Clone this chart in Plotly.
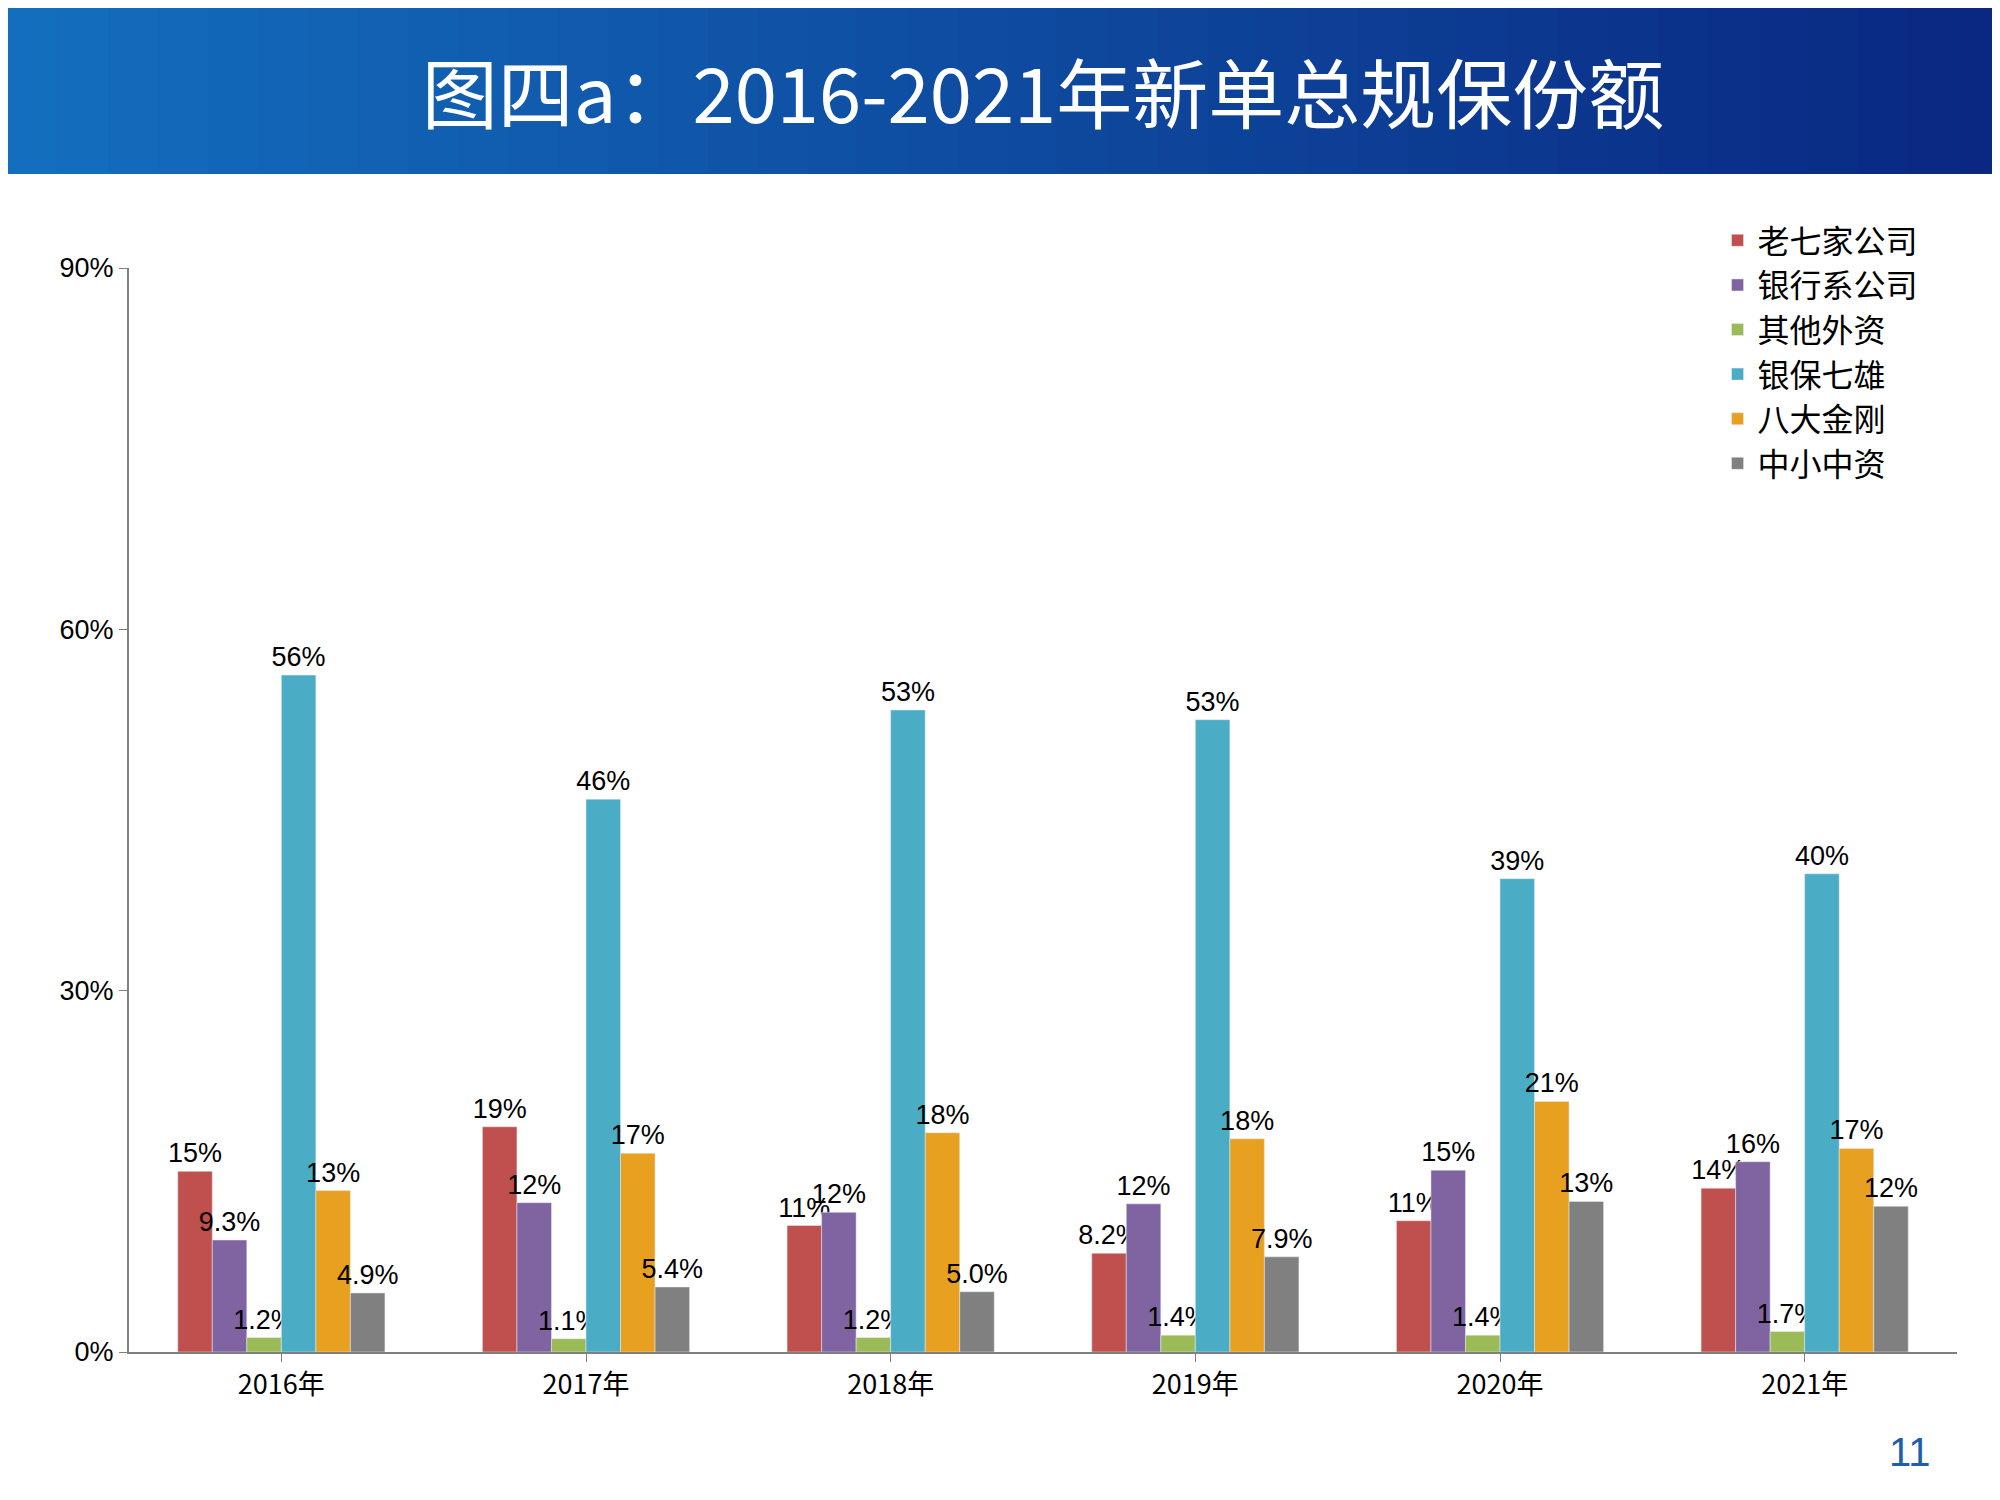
import plotly.graph_objects as go

years = ["2016年", "2017年", "2018年", "2019年", "2020年", "2021年"]
series = ["老七家公司", "银行系公司", "其他外资", "银保七雄", "八大金刚", "中小中资"]
colors = ["#C0504D", "#8064A2", "#9BBB59", "#4BACC6", "#E8A020", "#808080"]
values = [
    [15.0, 18.7, 10.5, 8.2, 10.9, 13.6],
    [9.3, 12.4, 11.6, 12.3, 15.1, 15.8],
    [1.2, 1.1, 1.2, 1.4, 1.4, 1.7],
    [56.2, 45.9, 53.3, 52.5, 39.3, 39.7],
    [13.4, 16.5, 18.2, 17.7, 20.8, 16.9],
    [4.9, 5.4, 5.0, 7.9, 12.5, 12.1],
]
labels = [
    ["15%", "19%", "11%", "8.2%", "11%", "14%"],
    ["9.3%", "12%", "12%", "12%", "15%", "16%"],
    ["1.2%", "1.1%", "1.2%", "1.4%", "1.4%", "1.7%"],
    ["56%", "46%", "53%", "53%", "39%", "40%"],
    ["13%", "17%", "18%", "18%", "21%", "17%"],
    ["4.9%", "5.4%", "5.0%", "7.9%", "13%", "12%"],
]

fig = go.Figure()
for s, c, v, t in zip(series, colors, values, labels):
    fig.add_trace(go.Bar(
        name=s, x=years, y=v, marker_color=c, text=t,
        textposition="outside", cliponaxis=False, constraintext="none",
        textfont=dict(family="Liberation Sans, Arial", size=27, color="#000"),
    ))

ph = 1500 - 260 - 156.0
pw = 2000 - 121 - 51.0
def py(pix):
    return (1500 - 156 - pix) / ph
def px(pix):
    return (pix - 121) / pw

fig.update_layout(
    width=2000, height=1500, paper_bgcolor="white", plot_bgcolor="white",
    barmode="group", bargap=0.32, bargroupgap=0,
    margin=dict(l=121, r=51, t=260, b=156),
    font=dict(family="Noto Sans CJK SC", color="#000"),
    title=dict(text="图四a：2016-2021年新单总规保份额", x=0.5175, xanchor="center",
               y=1 - 88 / 1500, yref="container", yanchor="middle",
               font=dict(size=76, color="white", family="Noto Sans CJK SC")),
    showlegend=True,
    legend=dict(x=0.869, y=py(205), xanchor="left", yanchor="top",
                font=dict(size=32, family="Noto Sans CJK SC"),
                itemwidth=30, tracegroupgap=8, bgcolor="rgba(0,0,0,0)"),
    xaxis=dict(showline=True, linecolor="#808080", linewidth=2,
               ticks="outside", tickcolor="#808080", ticklen=8,
               tickfont=dict(size=27, family="Noto Sans CJK SC")),
    yaxis=dict(range=[0, 90], tickvals=[0, 30, 60, 90],
               ticktext=["0%", "30%", "60%", "90%"],
               showline=True, linecolor="#808080", linewidth=2,
               ticks="outside", tickcolor="#808080", ticklen=8,
               showgrid=False, zeroline=False,
               tickfont=dict(size=27, family="Liberation Sans, Arial")),
)
steps = 40
for i in range(steps):
    f = i / (steps - 1)
    r = int(20 + (10 - 20) * f); g = int(110 + (40 - 110) * f); b = int(190 + (130 - 190) * f)
    fig.add_shape(type="rect", xref="paper", yref="paper",
                  x0=px(2000 * i / steps), x1=px(2000 * (i + 1) / steps + 1),
                  y0=py(166), y1=py(-5), fillcolor=f"rgb({r},{g},{b})", line_width=0, layer="below")
fig.add_annotation(xref="paper", yref="paper", x=px(1925), y=py(1468), showarrow=False,
                   text="11", font=dict(size=40, color="#1F5FA8", family="Liberation Sans"))
fig.write_html("out.html")
